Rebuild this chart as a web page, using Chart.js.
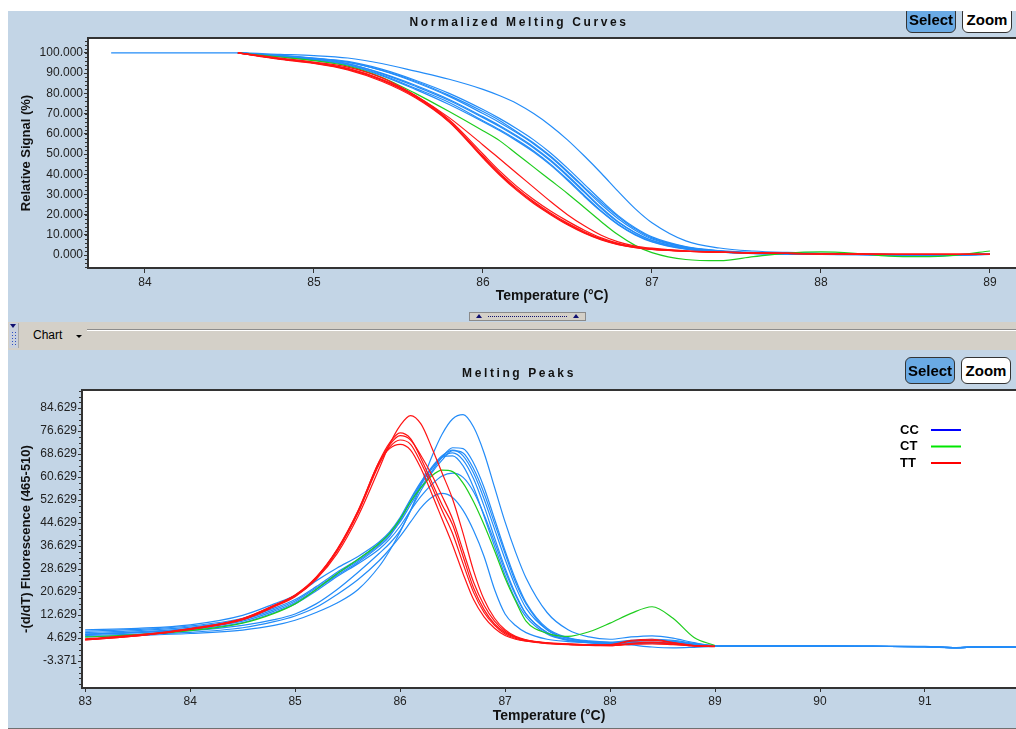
<!DOCTYPE html>
<html>
<head>
<meta charset="utf-8">
<title>Melting Curves</title>
<script src="https://cdn.jsdelivr.net/npm/chart.js@4.4.1/dist/chart.umd.min.js"></script>
<style>
  body { margin: 0; width: 1016px; height: 729px; background: #fff; position: relative; overflow: hidden; font-family: "Liberation Sans", Arial, sans-serif; }
  .panel { position: absolute; left: 8px; width: 1008px; background: #c3d5e6; overflow: hidden; }
  #topPanel { top: 11px; height: 311px; }
  #botPanel { top: 350px; height: 378px; border-bottom: 1px solid #707070; }
  .panel canvas { position: absolute; left: 0; top: 0; }
  .ptitle { position: absolute; left: 7px; width: 100%; text-align: center; font-weight: bold; font-size: 12px; line-height: 14px; letter-spacing: 2.6px; color: #111; z-index: 2; }
  .btn { position: absolute; width: 48px; height: 25px; border: 1px solid #333; border-radius: 6px; font-weight: bold; font-size: 15px; line-height: 25px; text-align: center; color: #000; z-index: 2; }
  .sel { background: #6aaae4; }
  .zoom { background: #fff; }
  #splitter { position: absolute; left: 461px; top: 301px; width: 115px; height: 7px; background: #d4d0c8; border: 1px solid #8a8a8a; z-index: 2; }
  .tri { position: absolute; top: 1px; width: 0; height: 0; border-left: 3px solid transparent; border-right: 3px solid transparent; border-bottom: 4px solid #101070; }
  .dots { position: absolute; left: 18px; right: 18px; top: 3px; border-top: 1px dotted #101070; }
  #toolbar { position: absolute; left: 8px; top: 322px; width: 1008px; height: 28px; background: #d4d0c8; }
  #grip { position: absolute; left: 1px; top: 1px; width: 9px; height: 25px; background: #c9d0dc; border-right: 1px solid #a8a8a8; }
  #grip .gtri { position: absolute; left: 1px; top: 1px; width: 0; height: 0; border-left: 3px solid transparent; border-right: 3px solid transparent; border-top: 4px solid #101070; }
  #grip .gdots { position: absolute; left: 2px; top: 8px; width: 5px; height: 15px; background-image: radial-gradient(#3050c0 40%, transparent 45%); background-size: 3px 3px; }
  #chartLabel { position: absolute; left: 25px; top: 6px; font-size: 12px; color: #000; }
  #chartArrow { position: absolute; left: 68px; top: 13px; width: 0; height: 0; border-left: 3px solid transparent; border-right: 3px solid transparent; border-top: 3px solid #000; }
  #tbLine { position: absolute; left: 79px; right: 0; top: 7px; border-top: 1px solid #8c8c8c; border-bottom: 1px solid #fff; }
</style>
</head>
<body>

<div id="topPanel" class="panel">
  <div class="ptitle" style="top:4px">Normalized Melting Curves</div>
  <div class="btn sel" style="left:898px;top:-5px">Select</div>
  <div class="btn zoom" style="left:954px;top:-5px">Zoom</div>
  <canvas id="normChart" width="1008" height="311"></canvas>
  <div id="splitter"><span class="tri" style="left:6px"></span><span class="dots"></span><span class="tri" style="right:6px"></span></div>
</div>

<div id="toolbar">
  <div id="grip"><span class="gtri"></span><span class="gdots"></span></div>
  <div id="chartLabel">Chart</div>
  <div id="chartArrow"></div>
  <div id="tbLine"></div>
</div>

<div id="botPanel" class="panel">
  <div class="ptitle" style="top:16px">Melting Peaks</div>
  <div class="btn sel" style="left:897px;top:7px">Select</div>
  <div class="btn zoom" style="left:953px;top:7px">Zoom</div>
  <canvas id="peakChart" width="1008" height="378"></canvas>
</div>

<script>
//Tick labels
const normXTicks = [84, 85, 86, 87, 88, 89];
const normYTicks = [0, 10, 20, 30, 40, 50, 60, 70, 80, 90, 100];
const peakXTicks = [83, 84, 85, 86, 87, 88, 89, 90, 91];
const peakYTicks = [-3.371, 4.629, 12.629, 20.629, 28.629, 36.629, 44.629, 52.629, 60.629, 68.629, 76.629, 84.629];

//Legend of the peaks chart
const legendLabels = ['CC', 'CT', 'TT'];
const legendColors = ['rgb(0,0,255)', 'rgb(0,230,0)', 'rgb(255,0,0)'];

//Normalized melting curves (Relative Signal %), sampled at normTemps
const normTemps = [83.8, 84.2, 84.55, 84.8, 85.0, 85.2, 85.4, 85.6, 85.8, 86.0,
  86.1, 86.2, 86.3, 86.4, 86.5, 86.6, 86.7, 86.8, 86.9, 87.0,
  87.2, 87.4, 87.6, 87.8, 88.0, 88.2, 88.4, 88.6, 88.8, 89.0];

const normCC1 = [100, 100, 100, 99.3, 98.7, 97.5, 94.8, 91.0, 87.0, 82.0, 78.8, 75.0, 70.0, 64.0, 57.0, 49.0, 40.5, 31.5, 23.0, 16.0, 7.0, 3.5, 2.0, 1.3, 0.9, 0.6, 0.3, 0.1, 0.2, 0.5];
const normCC2 = [null, null, 100, 98.8, 97.5, 95.8, 92.0, 86.5, 80.0, 72.0, 67.5, 62.5, 57.0, 50.5, 43.0, 35.0, 27.0, 19.5, 13.5, 9.0, 4.2, 2.2, 1.3, 0.8, 0.6, 0.5, 0.3, 0.0, 0.2, 0.6];
const normCC3 = [null, null, 100, 98.6, 97.2, 95.4, 91.3, 85.5, 78.5, 70.0, 65.5, 60.5, 55.0, 48.5, 41.0, 33.0, 25.0, 18.0, 12.3, 8.0, 3.8, 2.0, 1.1, 0.7, 0.5, 0.4, 0.2, -0.3, 0.0, 0.5];
const normCC4 = [null, null, 100, 98.4, 96.8, 94.6, 89.8, 83.5, 76.5, 68.0, 63.5, 58.5, 53.0, 46.5, 39.0, 31.0, 23.0, 16.2, 11.0, 7.2, 3.3, 1.7, 0.9, 0.6, 0.4, 0.3, 0.1, -0.5, -0.2, 0.4];
const normCC5 = [null, null, 100, 98.3, 96.6, 94.3, 89.2, 82.5, 75.5, 66.5, 62.0, 57.0, 51.5, 45.0, 37.5, 29.5, 21.8, 15.3, 10.3, 6.7, 3.0, 1.5, 0.8, 0.5, 0.3, 0.2, 0.0, -0.4, -0.1, 0.3];
const normCC6 = [null, null, 100, 98.5, 97.0, 94.8, 90.0, 84.0, 77.0, 68.5, 64.0, 59.0, 53.5, 47.0, 39.5, 31.5, 23.5, 16.5, 11.2, 7.3, 3.4, 1.8, 1.0, 0.6, 0.4, 0.3, 0.2, 0.0, 0.1, 0.4];
const normCC7 = [null, null, 100, 98.7, 97.3, 95.5, 91.5, 86.0, 79.0, 71.0, 66.5, 61.0, 55.5, 49.0, 41.5, 33.5, 26.0, 19.0, 13.0, 8.5, 4.0, 2.1, 1.2, 0.7, 0.5, 0.4, 0.2, -0.2, 0.1, 0.5];
const normCC8 = [null, null, 100, 98.2, 96.4, 94.0, 88.8, 82.0, 74.5, 66.0, 61.5, 56.5, 51.0, 44.5, 37.0, 29.0, 21.5, 15.0, 10.0, 6.5, 2.9, 1.4, 0.7, 0.4, 0.3, 0.2, 0.0, -0.4, -0.1, 0.3];
const normCT1 = [null, null, 100, 98.0, 96.2, 93.5, 88.0, 80.0, 71.0, 61.5, 56.5, 50.0, 43.5, 37.0, 30.5, 23.5, 16.5, 10.0, 4.8, 1.2, -2.2, -2.8, -0.8, 1.0, 1.6, 0.9, -0.5, -0.8, 0.0, 2.0];
const normTT1 = [null, null, 100, 97.5, 95.5, 93.0, 87.8, 79.0, 68.0, 54.5, 47.5, 40.5, 33.5, 26.5, 20.0, 14.5, 9.8, 6.5, 4.5, 3.4, 2.1, 1.5, 1.1, 0.8, 0.6, 0.5, 0.4, 0.3, 0.3, 0.4];
const normTT2 = [null, null, 100, 97.2, 95.2, 92.4, 87.0, 79.0, 67.0, 50.0, 41.5, 34.0, 27.5, 21.8, 16.8, 12.3, 8.5, 5.8, 4.1, 3.1, 2.0, 1.5, 1.1, 0.8, 0.6, 0.5, 0.4, 0.3, 0.3, 0.4];
const normTT3 = [null, null, 100, 97.0, 95.0, 92.0, 86.5, 78.5, 66.5, 49.0, 40.5, 33.0, 26.5, 20.8, 15.8, 11.5, 8.0, 5.5, 3.9, 2.9, 1.9, 1.5, 1.1, 0.8, 0.6, 0.5, 0.4, 0.3, 0.3, 0.4];
const normTT4 = [null, null, 100, 96.8, 94.8, 91.6, 86.0, 77.8, 65.8, 48.0, 39.5, 32.0, 25.5, 20.0, 15.0, 10.8, 7.5, 5.2, 3.7, 2.8, 1.9, 1.4, 1.0, 0.8, 0.6, 0.5, 0.4, 0.3, 0.3, 0.4];
const normTT5 = [null, null, 100, 97.1, 95.1, 92.2, 86.8, 78.3, 66.0, 48.5, 40.0, 32.5, 26.0, 20.3, 15.3, 11.1, 7.7, 5.3, 3.8, 2.8, 1.9, 1.4, 1.0, 0.8, 0.6, 0.5, 0.4, 0.3, 0.3, 0.4];

//Melting peaks -(d/dT) Fluorescence, sampled at peakTemps
const peakTemps = [83.0, 83.5, 84.0, 84.5, 84.8, 85.0, 85.2, 85.4, 85.6, 85.8,
  85.9, 86.0, 86.1, 86.2, 86.3, 86.4, 86.5, 86.6, 86.7, 86.8,
  86.9, 87.0, 87.1, 87.2, 87.4, 87.6, 87.8, 88.0, 88.2, 88.4,
  88.6, 88.8, 89.0, 89.5, 90.0, 90.5, 91.0, 91.3, 91.5, 91.87];

const peakCC1 = [6.0, 6.6, 7.2, 9.0, 11.0, 13.0, 16.5, 21.5, 27.5, 34.0, 37.5, 42.0, 49.0, 58.0, 67.5, 75.5, 80.8, 82.3, 78.0, 69.0, 57.0, 45.0, 34.5, 25.5, 13.5, 7.5, 5.0, 4.2, 5.0, 5.4, 4.6, 3.0, 2.0, 1.9, 1.9, 1.7, 1.6, 1.3, 1.5, 1.4];
const peakCC2 = [6.5, 7.2, 8.4, 11.0, 14.5, 17.5, 22.0, 27.0, 31.5, 37.0, 40.5, 45.0, 51.0, 57.0, 62.5, 67.5, 70.8, 70.5, 65.5, 57.0, 46.0, 35.0, 25.0, 17.0, 8.0, 4.8, 3.6, 3.2, 3.8, 4.2, 3.8, 2.8, 2.0, 1.9, 1.9, 1.8, 1.7, 1.3, 1.6, 1.5];
const peakCC3 = [5.0, 5.5, 6.2, 7.4, 9.0, 10.8, 13.5, 16.8, 21.5, 29.5, 35.0, 41.5, 49.0, 56.0, 62.0, 66.5, 69.8, 69.0, 63.5, 55.0, 44.5, 34.0, 24.0, 16.5, 7.5, 4.5, 3.4, 3.0, 3.5, 4.0, 3.5, 2.6, 1.9, 1.8, 1.8, 1.7, 1.6, 1.3, 1.5, 1.5];
const peakCC4 = [7.0, 7.6, 8.8, 11.5, 15.0, 18.0, 22.5, 27.5, 32.0, 37.5, 41.0, 46.0, 52.5, 58.5, 63.5, 67.5, 69.0, 66.5, 60.0, 50.5, 39.5, 29.0, 20.0, 13.0, 6.5, 4.0, 3.0, 2.6, 2.8, 3.0, 2.8, 2.3, 1.9, 1.8, 1.8, 1.7, 1.6, 1.2, 1.5, 1.4];
const peakCC5 = [6.0, 6.8, 8.0, 10.5, 14.0, 17.0, 21.5, 26.5, 31.0, 36.5, 40.0, 45.5, 52.0, 58.0, 63.5, 67.5, 68.0, 64.5, 57.0, 47.0, 36.5, 26.5, 18.0, 12.0, 6.0, 3.8, 3.0, 2.5, 2.6, 2.8, 2.6, 2.2, 1.8, 1.8, 1.8, 1.7, 1.6, 1.3, 1.5, 1.4];
const peakCC6 = [5.8, 6.5, 7.6, 10.0, 13.5, 16.5, 21.0, 26.0, 30.5, 35.5, 39.0, 43.5, 49.0, 54.0, 58.0, 61.0, 62.0, 60.5, 55.5, 47.5, 38.0, 28.0, 19.5, 13.0, 6.5, 4.0, 3.2, 2.8, 3.0, 3.2, 3.0, 2.4, 1.9, 1.8, 1.8, 1.7, 1.6, 1.3, 1.5, 1.4];
const peakCC7 = [5.5, 6.0, 6.6, 8.2, 10.3, 12.3, 15.3, 19.8, 25.0, 31.5, 35.5, 40.0, 45.0, 50.0, 53.5, 54.9, 53.5, 49.0, 42.0, 33.0, 21.5, 13.0, 9.0, 6.5, 4.2, 3.4, 3.0, 2.8, 2.2, 1.5, 1.2, 1.4, 1.7, 1.8, 1.8, 1.7, 1.6, 1.3, 1.5, 1.4];
const peakCC8 = [7.5, 8.0, 9.2, 12.5, 16.5, 19.5, 24.5, 29.0, 33.0, 38.0, 41.5, 46.5, 53.0, 59.0, 64.0, 68.0, 70.0, 68.0, 62.0, 53.0, 42.5, 32.0, 22.5, 15.0, 7.5, 4.5, 3.4, 3.0, 3.4, 3.8, 3.4, 2.5, 1.9, 1.8, 1.8, 1.7, 1.6, 1.3, 1.5, 1.5];
const peakCT1 = [5.0, 5.8, 7.2, 9.8, 13.2, 16.5, 21.5, 27.0, 32.0, 37.5, 41.0, 46.0, 52.0, 57.0, 61.0, 63.0, 62.5, 58.5, 52.0, 44.0, 35.0, 25.5, 17.5, 10.5, 6.3, 5.2, 6.8, 9.8, 13.2, 15.5, 11.5, 4.8, 2.0];
const peakTT1 = [4.0, 5.4, 7.6, 11.0, 15.5, 19.0, 25.0, 34.0, 47.0, 63.5, 72.0, 78.5, 82.0, 79.0, 71.0, 62.0, 53.0, 41.0, 28.0, 18.0, 11.5, 7.5, 5.2, 4.0, 3.0, 2.6, 2.3, 2.2, 3.5, 3.8, 3.0, 2.0, 1.6];
const peakTT2 = [4.3, 5.7, 7.9, 11.4, 16.0, 19.6, 25.8, 35.5, 49.0, 66.0, 72.5, 76.0, 74.0, 67.0, 59.0, 51.0, 44.0, 33.0, 22.0, 14.5, 9.5, 6.5, 4.8, 3.8, 2.8, 2.4, 2.2, 2.0, 2.8, 3.2, 2.6, 2.0, 1.7];
const peakTT3 = [4.1, 5.5, 7.7, 11.2, 15.8, 19.3, 25.5, 35.0, 48.5, 65.5, 71.8, 75.0, 73.5, 68.0, 61.5, 54.0, 46.0, 35.0, 24.0, 16.0, 10.5, 7.0, 5.0, 3.9, 2.9, 2.5, 2.2, 2.1, 2.4, 2.6, 2.3, 1.9, 1.7];
const peakTT4 = [4.2, 5.6, 7.8, 11.3, 15.9, 19.5, 25.6, 35.3, 48.8, 65.8, 70.5, 72.0, 70.0, 63.5, 55.0, 46.0, 37.0, 27.0, 18.0, 12.0, 8.0, 5.5, 4.2, 3.5, 2.7, 2.3, 2.1, 2.0, 2.6, 3.0, 2.5, 1.9, 1.7];
const peakTT5 = [4.0, 5.4, 7.6, 11.0, 15.6, 19.2, 25.2, 34.8, 48.2, 65.0, 71.0, 73.5, 72.0, 65.5, 57.5, 49.0, 41.0, 30.5, 20.5, 13.5, 9.0, 6.0, 4.5, 3.6, 2.8, 2.4, 2.2, 2.3, 3.8, 4.2, 3.0, 2.0, 1.7];

const BLUE = 'rgb(35,140,248)';
const GREEN = 'rgb(30,205,30)';
const RED = 'rgb(255,20,20)';

Chart.defaults.font.family = '"Liberation Sans", Arial, sans-serif';
Chart.defaults.color = '#111';

//Build {x,y} points skipping empty samples
function toPoints(temps, values) {
  var pts = [];
  for (var i = 0; i < values.length; i++) {
    if (values[i] !== null) pts.push({ x: temps[i], y: values[i] });
  }
  return pts;
}
function makeSet(temps, values, color) {
  return {
    data: toPoints(temps, values),
    borderColor: color,
    borderWidth: 1.2,
    pointRadius: 0,
    fill: false,
    cubicInterpolationMode: 'monotone'
  };
}

//White plot area, top frame line and minor ticks on the y axis
const plotFrame = {
  id: 'plotFrame',
  beforeDraw(chart) {
    var ctx = chart.ctx, a = chart.chartArea;
    ctx.save();
    ctx.fillStyle = '#fff';
    ctx.fillRect(a.left, a.top, a.right - a.left, a.bottom - a.top);
    ctx.restore();
  },
  afterDraw(chart, args, opts) {
    var ctx = chart.ctx, a = chart.chartArea, y = chart.scales.y;
    ctx.save();
    ctx.strokeStyle = '#333';
    ctx.lineWidth = 2;
    ctx.beginPath();
    ctx.moveTo(a.left - 1, a.top);
    ctx.lineTo(a.right, a.top);
    ctx.stroke();
    ctx.lineWidth = 1;
    var v = opts.first;
    while (v - opts.step >= y.min) v -= opts.step;
    for (; v <= y.max; v += opts.step) {
      var py = Math.round(y.getPixelForValue(v)) + 0.5;
      ctx.beginPath();
      ctx.moveTo(a.left - 3, py);
      ctx.lineTo(a.left, py);
      ctx.stroke();
    }
    ctx.restore();
  }
};

//Legend drawn inside the peaks plot, text left and line right
const peakLegend = {
  id: 'peakLegend',
  afterDraw(chart) {
    var ctx = chart.ctx, a = chart.chartArea;
    ctx.save();
    ctx.font = 'bold 13px "Liberation Sans", Arial, sans-serif';
    ctx.textBaseline = 'middle';
    for (var i = 0; i < legendLabels.length; i++) {
      var y = a.top + 40 + i * 16.5;
      ctx.fillStyle = '#000';
      ctx.fillText(legendLabels[i], a.right - 116, y);
      ctx.strokeStyle = legendColors[i];
      ctx.lineWidth = 2;
      ctx.beginPath();
      ctx.moveTo(a.right - 85, y);
      ctx.lineTo(a.right - 55, y);
      ctx.stroke();
    }
    ctx.restore();
  }
};

function scalesFor(s) {
  return {
    x: {
      type: 'linear', min: s.xMin, max: s.xMax,
      afterBuildTicks: function (sc) { sc.ticks = s.xTicks.map(function (v) { return { value: v } }) },
      afterFit: function (sc) { sc.height = s.xHeight },
      grid: { drawOnChartArea: false, tickLength: s.xTickLen, color: '#333' },
      border: { color: '#333', width: 2 },
      ticks: { font: { size: 12 }, padding: 2, maxRotation: 0, autoSkip: false, color: '#222' },
      title: { display: true, text: 'Temperature (°C)', color: '#111', font: { size: 14, weight: 'bold' }, padding: { top: 0, bottom: s.xTitlePad } }
    },
    y: {
      type: 'linear', min: s.yMin, max: s.yMax,
      afterBuildTicks: function (sc) { sc.ticks = s.yTicks.map(function (v) { return { value: v } }) },
      afterFit: function (sc) { sc.width = s.yWidth },
      grid: { drawOnChartArea: false, tickLength: 4, color: '#333' },
      border: { color: '#333', width: 2 },
      ticks: { font: { size: 12 }, padding: 1, color: '#222', callback: function (v) { return Number(v).toFixed(3) } },
      title: { display: true, text: s.yTitle, color: '#111', font: { size: 13, weight: 'bold' }, padding: { top: 11, bottom: 0 } }
    }
  };
}

//Start Chart Setup
const normData = {
  datasets: [
    makeSet(normTemps, normTT1, RED), makeSet(normTemps, normTT2, RED), makeSet(normTemps, normTT3, RED),
    makeSet(normTemps, normTT4, RED), makeSet(normTemps, normTT5, RED),
    makeSet(normTemps, normCT1, GREEN),
    makeSet(normTemps, normCC1, BLUE), makeSet(normTemps, normCC2, BLUE), makeSet(normTemps, normCC3, BLUE),
    makeSet(normTemps, normCC4, BLUE), makeSet(normTemps, normCC5, BLUE), makeSet(normTemps, normCC6, BLUE),
    makeSet(normTemps, normCC7, BLUE), makeSet(normTemps, normCC8, BLUE)
  ]
};

const peakData = {
  datasets: [
    makeSet(peakTemps, peakTT1, RED), makeSet(peakTemps, peakTT2, RED), makeSet(peakTemps, peakTT3, RED),
    makeSet(peakTemps, peakTT4, RED), makeSet(peakTemps, peakTT5, RED),
    makeSet(peakTemps, peakCT1, GREEN),
    makeSet(peakTemps, peakCC1, BLUE), makeSet(peakTemps, peakCC2, BLUE), makeSet(peakTemps, peakCC3, BLUE),
    makeSet(peakTemps, peakCC4, BLUE), makeSet(peakTemps, peakCC5, BLUE), makeSet(peakTemps, peakCC6, BLUE),
    makeSet(peakTemps, peakCC7, BLUE), makeSet(peakTemps, peakCC8, BLUE)
  ]
};

const normChart = new Chart(document.getElementById('normChart'), {
  type: 'line',
  data: normData,
  plugins: [plotFrame],
  options: {
    responsive: false,
    animation: false,
    layout: { padding: { left: 0, right: 0, top: 27, bottom: 0 } },
    plugins: { legend: { display: false }, tooltip: { enabled: false }, plotFrame: { first: 0, step: 2 } },
    scales: scalesFor({
      xMin: 83.663, xMax: 89.154, xTicks: normXTicks, xHeight: 54, xTickLen: 5, xTitlePad: 17,
      yMin: -6.4, yMax: 107.4, yTicks: normYTicks, yWidth: 80, yTitle: 'Relative Signal (%)'
    })
  }
});

const peakChart = new Chart(document.getElementById('peakChart'), {
  type: 'line',
  data: peakData,
  plugins: [plotFrame, peakLegend],
  options: {
    responsive: false,
    animation: false,
    layout: { padding: { left: 0, right: 0, top: 40, bottom: 0 } },
    plugins: { legend: { display: false }, tooltip: { enabled: false }, plotFrame: { first: -3.371, step: 2 } },
    scales: scalesFor({
      xMin: 82.97, xMax: 91.867, xTicks: peakXTicks, xHeight: 40, xTickLen: 4, xTitlePad: 3,
      yMin: -12.76, yMax: 90.89, yTicks: peakYTicks, yWidth: 74, yTitle: '-(d/dT) Fluorescence (465-510)'
    })
  }
});
//End Chart Setup
</script>
</body>
</html>
